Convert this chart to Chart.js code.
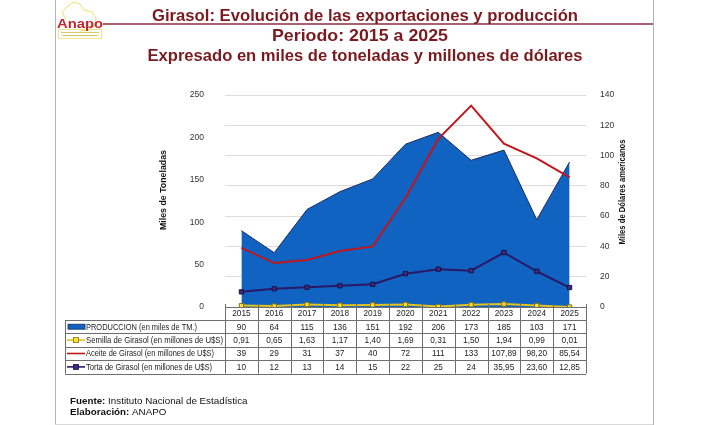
<!DOCTYPE html>
<html><head><meta charset="utf-8">
<script src="https://cdn.jsdelivr.net/npm/chart.js@4/dist/chart.umd.min.js"></script>
<style>html,body{margin:0;padding:0;background:#fff;overflow:hidden}#wrap{width:709px;height:425px;position:relative}</style>
</head><body><div id="wrap"><canvas id="c" width="709" height="425"></canvas></div>
<script>
const years = ['2015','2016','2017','2018','2019','2020','2021','2022','2023','2024','2025'];
const produccion = [90,64,115,136,151,192,206,173,185,103,171];
const semilla = [0.91,0.65,1.63,1.17,1.40,1.69,0.31,1.50,1.94,0.99,0.01];
const aceite = [39,29,31,37,40,72,111,133,107.89,98.20,85.54];
const torta = [10,12,13,14,15,22,25,24,35.95,23.60,12.85];
const seriesNames = [
  'PRODUCCION (en miles de TM.)',
  'Semilla de Girasol (en millones de U$S)',
  'Aceite de Girasol (en millones de U$S)',
  'Torta de Girasol (en millones de U$S)'
];
const leftAxisMax = 250, leftAxisStep = 50;
const rightAxisMax = 140, rightAxisStep = 20;
const titleLines = [
  'Girasol: Evolución de las exportaciones y producción',
  'Periodo: 2015 a 2025',
  'Expresado en miles de toneladas y millones de dólares'
];
const leftAxisTitle = 'Miles de Toneladas';
const rightAxisTitle = 'Miles de Dólares americanos';

const SANS = "'Liberation Sans', Arial, sans-serif";
const C_AREA = '#1063c1', C_AREA_B = '#1c2b5c';
const C_SEM = '#e2c21c', C_SEM_P = '#ffe13a', C_SEM_B = '#857210';
const C_ACE = '#c0161c';
const C_TOR = '#2a1868', C_TOR_P = '#3b2b82';
const TITLE_C = '#7a1a1f';

function fmt(v){ return Number.isInteger(v) ? String(v) : v.toFixed(2).replace('.', ','); }

function fitText(ctx, text, cx, cy, target, font, color, rot){
  ctx.save();
  ctx.font = font; ctx.fillStyle = color;
  ctx.textAlign = 'center'; ctx.textBaseline = 'middle';
  const w = ctx.measureText(text).width;
  const s = target ? target / w : 1;
  ctx.translate(cx, cy);
  if (rot) ctx.rotate(rot);
  ctx.scale(s, 1);
  ctx.fillText(text, 0, 0);
  ctx.restore();
}

const decor = {
  id: 'decor',
  beforeDraw(chart){
    const ctx = chart.ctx;
    ctx.save();
    ctx.strokeStyle = '#b4b4b4'; ctx.lineWidth = 1;
    ctx.beginPath();
    ctx.moveTo(55.5, 0); ctx.lineTo(55.5, 425);
    ctx.moveTo(653.5, 0); ctx.lineTo(653.5, 425);
    ctx.stroke();
    ctx.strokeStyle = '#d8d8d8';
    ctx.beginPath(); ctx.moveTo(55, 424.5); ctx.lineTo(653, 424.5); ctx.stroke();
    // logo outline (decorative)
    ctx.strokeStyle = '#eedc6a'; ctx.lineWidth = 1;
    ctx.beginPath();
    ctx.moveTo(66, 20); ctx.lineTo(62, 12); ctx.lineTo(68, 6); ctx.lineTo(74, 2);
    ctx.lineTo(80, 4); ctx.lineTo(84, 10); ctx.lineTo(92, 12); ctx.lineTo(96, 18);
    ctx.lineTo(95, 26); ctx.lineTo(88, 30); ctx.lineTo(80, 31);
    ctx.stroke();
    ctx.strokeStyle = '#f2e48a';
    ctx.strokeRect(58.5, 29.5, 43, 9);
    ctx.fillStyle = '#d9c86a';
    ctx.fillRect(61, 32, 38, 1); ctx.fillRect(62, 35, 36, 1);
    ctx.strokeStyle = '#8b2c3c'; ctx.lineWidth = 1.5;
    ctx.beginPath(); ctx.moveTo(103, 24); ctx.lineTo(653, 24); ctx.stroke();
    ctx.restore();
    ctx.save();
    ctx.font = "bold 13.5px " + SANS; ctx.fillStyle = '#c4262b';
    ctx.textAlign = 'left'; ctx.textBaseline = 'alphabetic';
    const aw = ctx.measureText('Anapo').width;
    ctx.translate(57, 28); ctx.scale(46/aw, 1); ctx.fillText('Anapo', 0, 0);
    ctx.restore();
    fitText(ctx, titleLines[0], 365, 16, 426, "bold 17px " + SANS, TITLE_C);
    fitText(ctx, titleLines[1], 360, 36.5, 176, "bold 17px " + SANS, TITLE_C);
    fitText(ctx, titleLines[2], 365, 56.5, 435, "bold 17px " + SANS, TITLE_C);
  },
  afterDraw(chart){
    const ctx = chart.ctx;
    const xs = chart.scales.x;
    const ca = chart.chartArea;
    const n = years.length;
    const cx = years.map((_, i) => xs.getPixelForValue(i));
    const cw = cx[1] - cx[0];
    const L = ca.left, R = ca.right;
    const top = ca.bottom;
    const hdrB = top + 13;
    const rowH = 13.4;
    const rows = [hdrB, hdrB + rowH, hdrB + 2*rowH, hdrB + 3*rowH, hdrB + 4*rowH];
    const legL = 65;
    ctx.save();
    ctx.strokeStyle = '#6e6e6e'; ctx.lineWidth = 1;
    ctx.beginPath();
    ctx.moveTo(L, Math.round(top)+0.5); ctx.lineTo(R, Math.round(top)+0.5);
    for (const y of rows){ ctx.moveTo(legL, Math.round(y)+0.5); ctx.lineTo(R, Math.round(y)+0.5); }
    for (let i = 0; i <= n; i++){
      const x = Math.round(L + i*cw) + 0.5;
      ctx.moveTo(x, top - 3); ctx.lineTo(x, rows[4]);
    }
    ctx.moveTo(legL + 0.5, rows[0]); ctx.lineTo(legL + 0.5, rows[4]);
    ctx.stroke();
    ctx.fillStyle = '#222';
    ctx.font = "9px " + SANS; ctx.textAlign = 'center'; ctx.textBaseline = 'middle';
    const cellFit = (t, x, y) => {
      const w = ctx.measureText(t).width;
      const s = Math.min(1, 28 / w) * 0.92;
      ctx.save(); ctx.translate(x, y); ctx.scale(s, 1); ctx.fillText(t, 0, 0); ctx.restore();
    };
    years.forEach((y, i) => cellFit(y, cx[i], (top + hdrB)/2 + 0.5));
    const dataRows = [produccion, semilla, aceite, torta];
    dataRows.forEach((arr, r) => {
      const ym = (rows[r] + rows[r+1]) / 2 + 0.5;
      arr.forEach((v, i) => cellFit(fmt(v), cx[i], ym));
    });
    ctx.textAlign = 'left';
    seriesNames.forEach((name, r) => {
      const ym = (rows[r] + rows[r+1]) / 2;
      if (r === 0){
        ctx.fillStyle = C_AREA; ctx.fillRect(68, ym - 2.5, 17, 5);
        ctx.strokeStyle = C_AREA_B; ctx.lineWidth = 0.8; ctx.strokeRect(68, ym - 2.5, 17, 5);
      } else {
        const col = [null, C_SEM, C_ACE, C_TOR][r];
        ctx.strokeStyle = col; ctx.lineWidth = 1.6;
        ctx.beginPath(); ctx.moveTo(67, ym); ctx.lineTo(85, ym); ctx.stroke();
        if (r !== 2){
          ctx.fillStyle = r === 1 ? C_SEM_P : C_TOR_P;
          ctx.strokeStyle = r === 1 ? C_SEM_B : '#1a1040'; ctx.lineWidth = 0.8;
          ctx.fillRect(73.5, ym - 2.5, 5, 5); ctx.strokeRect(73.5, ym - 2.5, 5, 5);
        }
      }
      ctx.fillStyle = '#222'; ctx.font = "9px " + SANS;
      const w = ctx.measureText(name).width;
      const target = [111, 137, 128, 126][r];
      ctx.save(); ctx.translate(86, ym + 0.5); ctx.scale(target / w, 1); ctx.fillText(name, 0, 0); ctx.restore();
    });
    ctx.restore();
    fitText(ctx, leftAxisTitle, 164, 190, 80, "bold 9px " + SANS, '#111', -Math.PI/2);
    fitText(ctx, rightAxisTitle, 623, 192, 105, "bold 9px " + SANS, '#111', -Math.PI/2);
    ctx.save();
    ctx.fillStyle = '#111'; ctx.textBaseline = 'middle'; ctx.textAlign = 'left';
    ctx.font = "bold 9.8px " + SANS;
    ctx.fillText('Fuente:', 70, 401);
    const w1 = ctx.measureText('Fuente:').width;
    ctx.fillText('Elaboración:', 70, 412.5);
    const w2 = ctx.measureText('Elaboración:').width;
    ctx.font = "9.8px " + SANS;
    ctx.fillText(' Instituto Nacional de Estadística', 70 + w1, 401);
    ctx.fillText(' ANAPO', 70 + w2, 412.5);
    ctx.restore();
  }
};

new Chart(document.getElementById('c').getContext('2d'), {
  type: 'line',
  data: {
    labels: years,
    datasets: [
      { label: seriesNames[0], data: produccion, yAxisID: 'y', fill: 'origin',
        backgroundColor: C_AREA, borderColor: C_AREA_B, borderWidth: 1, pointRadius: 0, tension: 0, order: 10 },
      { label: seriesNames[1], data: semilla, yAxisID: 'y1', fill: false, borderColor: C_SEM, borderWidth: 2,
        pointStyle: 'rect', pointRadius: 3, pointBackgroundColor: C_SEM_P, pointBorderColor: C_SEM_B, pointBorderWidth: 1, order: 3 },
      { label: seriesNames[2], data: aceite, yAxisID: 'y1', fill: false, borderColor: C_ACE, borderWidth: 2,
        pointRadius: 0, order: 2 },
      { label: seriesNames[3], data: torta, yAxisID: 'y1', fill: false, borderColor: C_TOR, borderWidth: 2,
        pointStyle: 'rect', pointRadius: 3, pointBackgroundColor: C_TOR_P, pointBorderColor: '#1a1040', pointBorderWidth: 1, order: 1 }
    ]
  },
  options: {
    responsive: false, animation: false,
    layout: { padding: { left: 140, right: 59, top: 95, bottom: 118 } },
    plugins: { legend: { display: false }, title: { display: false }, tooltip: { enabled: false } },
    scales: {
      x: { display: false, offset: true },
      y: { position: 'left', min: 0, max: leftAxisMax,
        ticks: { stepSize: leftAxisStep, padding: 13, color: '#333', font: { size: 8.5, family: SANS } },
        grid: { display: false }, border: { display: false },
        afterFit(s){ s.width = 85; } },
      y1: { position: 'right', min: 0, max: rightAxisMax,
        ticks: { stepSize: rightAxisStep, padding: 14, color: '#333', font: { size: 8.5, family: SANS } },
        grid: { color: '#dcdcdc', drawTicks: false }, border: { display: false },
        afterFit(s){ s.width = 64; } }
    }
  },
  plugins: [decor]
});
</script>
</body></html>
